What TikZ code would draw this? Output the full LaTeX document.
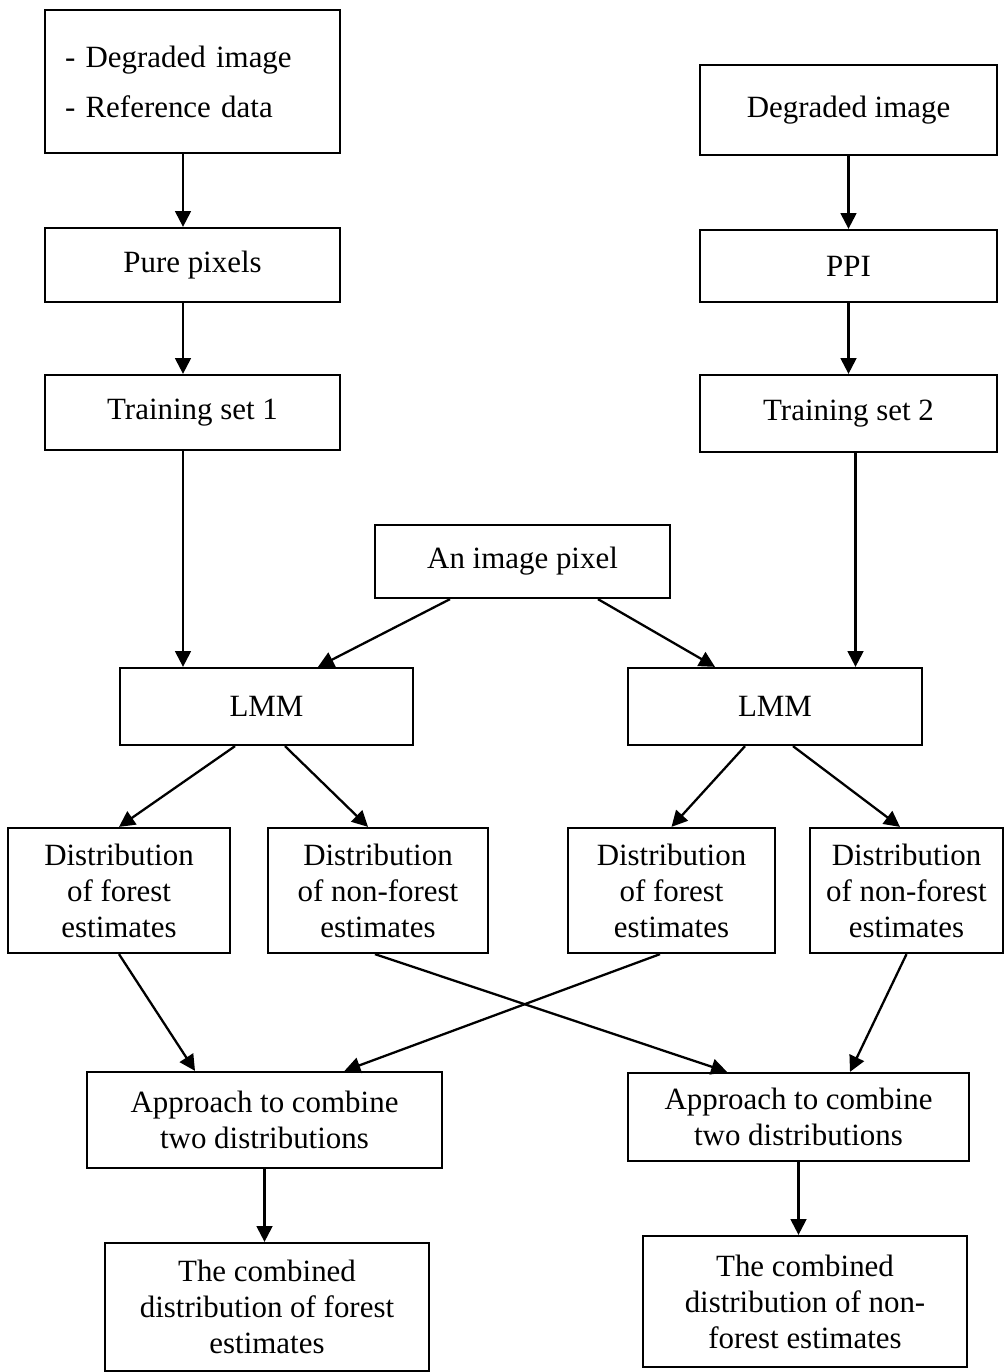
\documentclass[tikz,border=0pt]{standalone}
\usepackage{fontspec}
\setmainfont{Liberation Serif}
\usepackage{tikz}
\usetikzlibrary{arrows.meta}

\begin{document}
\begin{tikzpicture}[
            x=0.02cm, y=-0.02cm,
            box/.style={rectangle, draw, line width=1.3pt, align=center, inner sep=2pt, font=\fontsize{17.6}{20.5}\selectfont},
            arrow/.style={line width=1.3pt, -{Triangle[length=9pt, width=9pt]}}
        ]
            \useasboundingbox (0,0) rectangle (1007,1372);

            % Inputs
            \node[box, align=left, text width=5.1cm, inner xsep=0.4cm, inner ysep=0pt, minimum width=5.9cm, minimum height=2.86cm,
                  font=\fontsize{17.6}{28.5}\selectfont] (input1) at (192.5,81.5) {
                - Degraded image\\
                - Reference data
            };
            \node[box, minimum width=5.94cm, minimum height=1.8cm] (input2) at (848.5,110) {Degraded image};

            % Training sets
            \node[box, minimum width=5.9cm, minimum height=1.48cm] (pure) at (192.5,265) {Pure pixels};
            \node[box, minimum width=5.94cm, minimum height=1.44cm] (ppi) at (848.5,266) {PPI};
            \node[box, minimum width=5.9cm, minimum height=1.5cm] (train1) at (192.5,412.5) {Training set 1};
            \node[box, minimum width=5.94cm, minimum height=1.54cm] (train2) at (848.5,413.5) {Training set 2};

            % Unmixing
            \node[box, minimum width=5.9cm, minimum height=1.46cm] (pixel) at (522.5,561.5) {An image pixel};
            \node[box, minimum width=5.86cm, minimum height=1.54cm] (lmm1) at (266.5,706.5) {LMM};
            \node[box, minimum width=5.88cm, minimum height=1.54cm] (lmm2) at (775,706.5) {LMM};

            % Distributions
            \node[box, minimum width=4.44cm, minimum height=2.5cm] (forest1) at (119,890.5) {Distribution\\ of forest\\ estimates};
            \node[box, minimum width=4.4cm, minimum height=2.5cm] (nonforest1) at (378,890.5) {Distribution\\ of non-forest\\ estimates};
            \node[box, minimum width=4.14cm, minimum height=2.5cm] (forest2) at (671.5,890.5) {Distribution\\ of forest\\ estimates};
            \node[box, minimum width=3.86cm, minimum height=2.5cm] (nonforest2) at (906.5,890.5) {Distribution\\ of non-forest\\ estimates};

            % Combination
            \node[box, minimum width=7.1cm, minimum height=1.92cm] (combine1) at (264.5,1120) {Approach to combine\\ two distributions};
            \node[box, minimum width=6.82cm, minimum height=1.76cm] (combine2) at (798.5,1117) {Approach to combine\\ two distributions};
            \node[box, minimum width=6.48cm, minimum height=2.56cm] (result1) at (267,1307) {The combined\\ distribution of forest\\ estimates};
            \node[box, minimum width=6.48cm, minimum height=2.62cm] (result2) at (805,1301.5) {The combined\\ distribution of non-\\ forest estimates};

            % Arrows
            \draw[arrow] ([xshift=-0.19cm]input1.south) -- ([xshift=-0.19cm]pure.north);
            \draw[arrow] ([xshift=-0.19cm]pure.south) -- ([xshift=-0.19cm]train1.north);
            \draw[arrow] ([xshift=-0.19cm]train1.south) -- ([xshift=-0.19cm]train1.south |- lmm1.north);
            \draw[arrow] (input2.south) -- (ppi.north);
            \draw[arrow] (ppi.south) -- (train2.north);
            \draw[arrow] ([xshift=0.14cm]train2.south) -- ([xshift=0.14cm]train2.south |- lmm2.north);

            \draw[arrow] ([xshift=-1.45cm]pixel.south) -- ([xshift=1.03cm]lmm1.north);
            \draw[arrow] ([xshift=1.51cm]pixel.south) -- ([xshift=-1.2cm]lmm2.north);

            \draw[arrow] ([xshift=-0.63cm]lmm1.south) -- (forest1.north);
            \draw[arrow] ([xshift=0.37cm]lmm1.south) -- ([xshift=-0.2cm]nonforest1.north);
            \draw[arrow] ([xshift=-0.6cm]lmm2.south) -- (forest2.north);
            \draw[arrow] ([xshift=0.36cm]lmm2.south) -- ([xshift=-0.13cm]nonforest2.north);

            \draw[arrow] (forest1.south) -- ([xshift=-1.39cm]combine1.north);
            \draw[arrow] ([xshift=-0.23cm]forest2.south) -- ([xshift=1.6cm]combine1.north);
            \draw[arrow] ([xshift=-0.06cm]nonforest1.south) -- ([xshift=-1.43cm]combine2.north);
            \draw[arrow] (nonforest2.south) -- ([xshift=1.03cm]combine2.north);

            \draw[arrow] (combine1.south) -- (combine1.south |- result1.north);
            \draw[arrow] (combine2.south) -- (combine2.south |- result2.north);

        \end{tikzpicture}
\end{document}
